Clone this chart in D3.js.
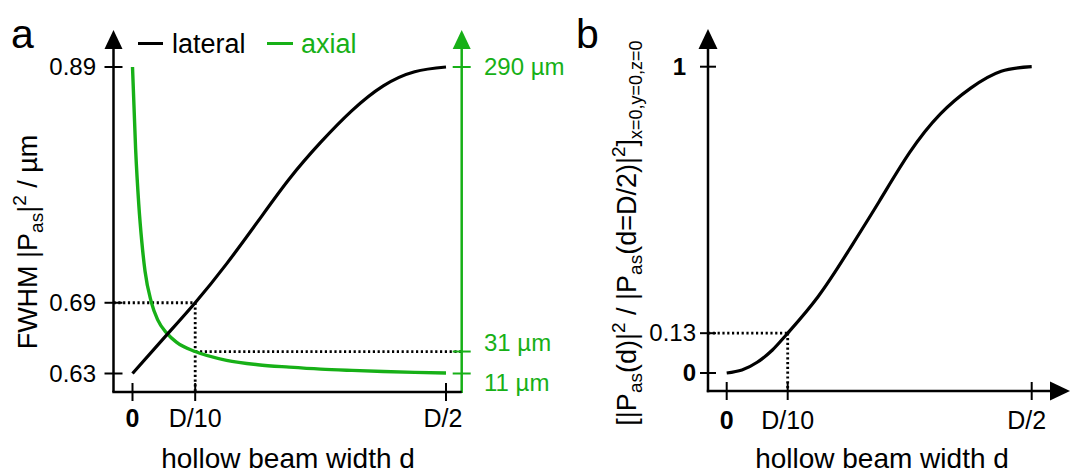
<!DOCTYPE html>
<html>
<head>
<meta charset="utf-8">
<script src="https://cdn.jsdelivr.net/npm/d3@7"></script>
<style>
  body { margin: 0; background: #fff; }
  svg { display: block; font-family: "Liberation Sans", Arial, Helvetica, sans-serif; }
</style>
</head>
<body>
<svg id="chart" width="1072" height="475"></svg>
<script>
// ---- data (hollow beam width d given as a fraction of D) ----
const lateralD    = [0, 0.05, 0.1, 0.15, 0.2, 0.25, 0.3, 0.35, 0.4, 0.45, 0.5];
const lateralFWHM = [0.630, 0.660, 0.690, 0.723, 0.759, 0.795, 0.826, 0.853, 0.874, 0.886, 0.890];

const axialD    = [0, 0.005, 0.01, 0.015, 0.02, 0.03, 0.04, 0.055, 0.07, 0.1, 0.15, 0.2, 0.25, 0.3, 0.35, 0.4, 0.45, 0.5];
const axialFWHM = [290, 215, 165, 130, 104, 76, 60, 47.5, 39.5, 31, 23, 19, 16.8, 15, 13.8, 12.8, 12, 11.5];

const normD         = [0, 0.025, 0.05, 0.075, 0.1, 0.15, 0.2, 0.25, 0.3, 0.35, 0.4, 0.45, 0.5];
const normIntensity = [0, 0.010, 0.035, 0.075, 0.13, 0.25, 0.40, 0.56, 0.72, 0.845, 0.93, 0.985, 1.0];

const xTickValues = [0, 0.1, 0.5];
const xTickLabels = ["0", "D/10", "D/2"];
const aLeftTickValues  = [0.63, 0.69, 0.89];
const aLeftTickLabels  = ["0.63", "0.69", "0.89"];
const aRightTickValues = [11, 31, 290];
const aRightTickLabels = ["11 µm", "31 µm", "290 µm"];
const bTickValues = [0, 0.13, 1];
const bTickLabels = ["0", "0.13", "1"];
const boldLabels = ["0", "1"];

const GREEN = "#17b017";
const svg = d3.select("#chart");

// ---- scales ----
const xa  = d3.scaleLinear().domain([0, 0.5]).range([132.5, 446]);
const ya  = d3.scaleLinear().domain([0.63, 0.89]).range([373.5, 67]);
const yaR = d3.scaleLinear().domain([11, 290]).range([373.5, 67]);
const xb  = d3.scaleLinear().domain([0, 0.5]).range([726.7, 1031.7]);
const yb  = d3.scaleLinear().domain([0, 1]).range([373, 66.7]);

const A = { left: 113.5, right: 461.7, bottom: 392, top: 30 };
const B = { left: 708, right: 1070, bottom: 391, top: 29 };

const YTICK_FS = 24;
const XTICK_FS = 25;
const TITLE_FS = 28;
const DOT = "2.2,2.6";

function line(g, x1, y1, x2, y2, color, w, dash) {
  const l = g.append("line").attr("x1", x1).attr("y1", y1).attr("x2", x2).attr("y2", y2)
    .attr("stroke", color).attr("stroke-width", w);
  if (dash) l.attr("stroke-dasharray", dash);
  return l;
}
function tri(g, pts, color) {
  g.append("path").attr("d", "M" + pts.map(p => p.join(",")).join("L") + "Z").attr("fill", color);
}
function label(g, txt, x, y, anchor, fs, color) {
  return g.append("text").attr("x", x).attr("y", y).attr("text-anchor", anchor)
    .attr("font-size", fs).attr("fill", color || "#000")
    .attr("font-weight", boldLabels.includes(txt) ? "bold" : "normal").text(txt);
}

// =================== panel a ===================
const ga = svg.append("g");

// dotted guides at d = D/10
const dRef = xTickValues[1];
const latRef = lateralFWHM[lateralD.indexOf(dRef)];
const axRef = axialFWHM[axialD.indexOf(dRef)];
line(ga, A.left, ya(latRef), xa(dRef), ya(latRef), "#000", 2.8, DOT);
line(ga, xa(dRef), ya(latRef), xa(dRef), A.bottom, "#000", 2.8, DOT);
line(ga, xa(dRef), yaR(axRef), A.right, yaR(axRef), "#000", 2.8, DOT);

// curves
const lineLat = d3.line().x((d, i) => xa(lateralD[i])).y(d => ya(d)).curve(d3.curveNatural);
const lineAx  = d3.line().x((d, i) => xa(axialD[i])).y(d => yaR(d)).curve(d3.curveMonotoneX);
ga.append("path").attr("d", lineAx(axialFWHM)).attr("fill", "none").attr("stroke", GREEN).attr("stroke-width", 3.4);
ga.append("path").attr("d", lineLat(lateralFWHM)).attr("fill", "none").attr("stroke", "#000").attr("stroke-width", 3.2);

// axes
line(ga, A.left, A.bottom, A.left, A.top + 16, "#000", 2.5);
tri(ga, [[A.left, A.top], [A.left - 9, A.top + 19], [A.left + 9, A.top + 19]], "#000");
line(ga, A.right, A.bottom + 1, A.right, A.top + 16, GREEN, 2.5);
tri(ga, [[A.right, A.top], [A.right - 9, A.top + 19], [A.right + 9, A.top + 19]], GREEN);
line(ga, A.left - 1.2, A.bottom, A.right, A.bottom, "#000", 2.5);

// left ticks
aLeftTickValues.forEach((v, i) => {
  line(ga, A.left - 9, ya(v), A.left + 9, ya(v), "#000", 2);
  label(ga, aLeftTickLabels[i], 96, ya(v) + 8, "end", YTICK_FS);
});
// right ticks (close labels are pulled apart)
const rightNudge = { "31 µm": -9, "11 µm": 9 };
aRightTickValues.forEach((v, i) => {
  line(ga, A.right - 9, yaR(v), A.right + 9, yaR(v), GREEN, 2);
  const t = aRightTickLabels[i];
  label(ga, t, 484, yaR(v) + 8 + (rightNudge[t] || 0), "start", YTICK_FS, GREEN);
});
// bottom ticks
xTickValues.forEach((v, i) => {
  line(ga, xa(v), A.bottom - 9, xa(v), A.bottom + 9, "#000", 2);
  label(ga, xTickLabels[i], xa(v) - (i === 2 ? 3 : 0), 427, "middle", XTICK_FS);
});

// titles
ga.append("text").attr("x", 288).attr("y", 468).attr("text-anchor", "middle")
  .attr("font-size", TITLE_FS).text("hollow beam width d");

const ta = ga.append("text").attr("transform", "translate(37,242) rotate(-90)")
  .attr("text-anchor", "middle").attr("font-size", 27);
ta.append("tspan").text("FWHM |P");
ta.append("tspan").attr("font-size", 19).attr("dy", 6).text("as");
ta.append("tspan").attr("dy", -6).text("|");
ta.append("tspan").attr("font-size", 19).attr("dy", -11).text("2");
ta.append("tspan").attr("dy", 11).text(" / µm");

// panel letter and legend
ga.append("text").attr("x", 11).attr("y", 48).attr("font-size", 41).text("a");
line(ga, 138, 43.5, 163, 43.5, "#000", 3);
ga.append("text").attr("x", 172).attr("y", 53).attr("font-size", 27).text("lateral");
line(ga, 267, 43.5, 293, 43.5, GREEN, 3);
ga.append("text").attr("x", 301).attr("y", 53).attr("font-size", 27).attr("fill", GREEN).text("axial");

// =================== panel b ===================
const gb = svg.append("g");
const normRef = normIntensity[normD.indexOf(dRef)];
line(gb, B.left, yb(normRef), xb(dRef), yb(normRef), "#000", 2.8, DOT);
line(gb, xb(dRef), yb(normRef), xb(dRef), B.bottom, "#000", 2.8, DOT);

const lineNorm = d3.line().x((d, i) => xb(normD[i])).y(d => yb(d)).curve(d3.curveNatural);
gb.append("path").attr("d", lineNorm(normIntensity)).attr("fill", "none").attr("stroke", "#000").attr("stroke-width", 3.2);

line(gb, B.left, B.bottom + 1.2, B.left, B.top + 17, "#000", 2.5);
tri(gb, [[B.left, B.top], [B.left - 9.5, B.top + 20], [B.left + 9.5, B.top + 20]], "#000");
line(gb, B.left - 1.2, B.bottom, B.right - 18, B.bottom, "#000", 2.5);
tri(gb, [[B.right, B.bottom], [B.right - 20, B.bottom - 9.5], [B.right - 20, B.bottom + 9.5]], "#000");

bTickValues.forEach((v, i) => {
  line(gb, B.left - 8, yb(v), B.left + 8, yb(v), "#000", 2);
  const t = bTickLabels[i];
  label(gb, t, t === "1" ? 686 : 696, yb(v) + 8, "end", YTICK_FS);
});
xTickValues.forEach((v, i) => {
  line(gb, xb(v), B.bottom - 9, xb(v), B.bottom + 9, "#000", 2);
  label(gb, xTickLabels[i], xb(v) - (i === 2 ? 5 : 0), 429, "middle", XTICK_FS);
});

gb.append("text").attr("x", 882).attr("y", 468).attr("text-anchor", "middle")
  .attr("font-size", TITLE_FS).text("hollow beam width d");

const tb = gb.append("text").attr("transform", "translate(636,233) rotate(-90)")
  .attr("text-anchor", "middle").attr("font-size", 27);
tb.append("tspan").text("[|P");
tb.append("tspan").attr("font-size", 19).attr("dy", 6).text("as");
tb.append("tspan").attr("dy", -6).text("(d)|");
tb.append("tspan").attr("font-size", 19).attr("dy", -11).text("2");
tb.append("tspan").attr("dy", 11).text(" / |P");
tb.append("tspan").attr("font-size", 19).attr("dy", 6).text("as");
tb.append("tspan").attr("dy", -6).text("(d=D/2)|");
tb.append("tspan").attr("font-size", 19).attr("dy", -11).text("2");
tb.append("tspan").attr("dy", 11).text("]");
tb.append("tspan").attr("font-size", 18).attr("dy", 6).text("x=0,y=0,z=0");

gb.append("text").attr("x", 576).attr("y", 48).attr("font-size", 41).text("b");
</script>
</body>
</html>
